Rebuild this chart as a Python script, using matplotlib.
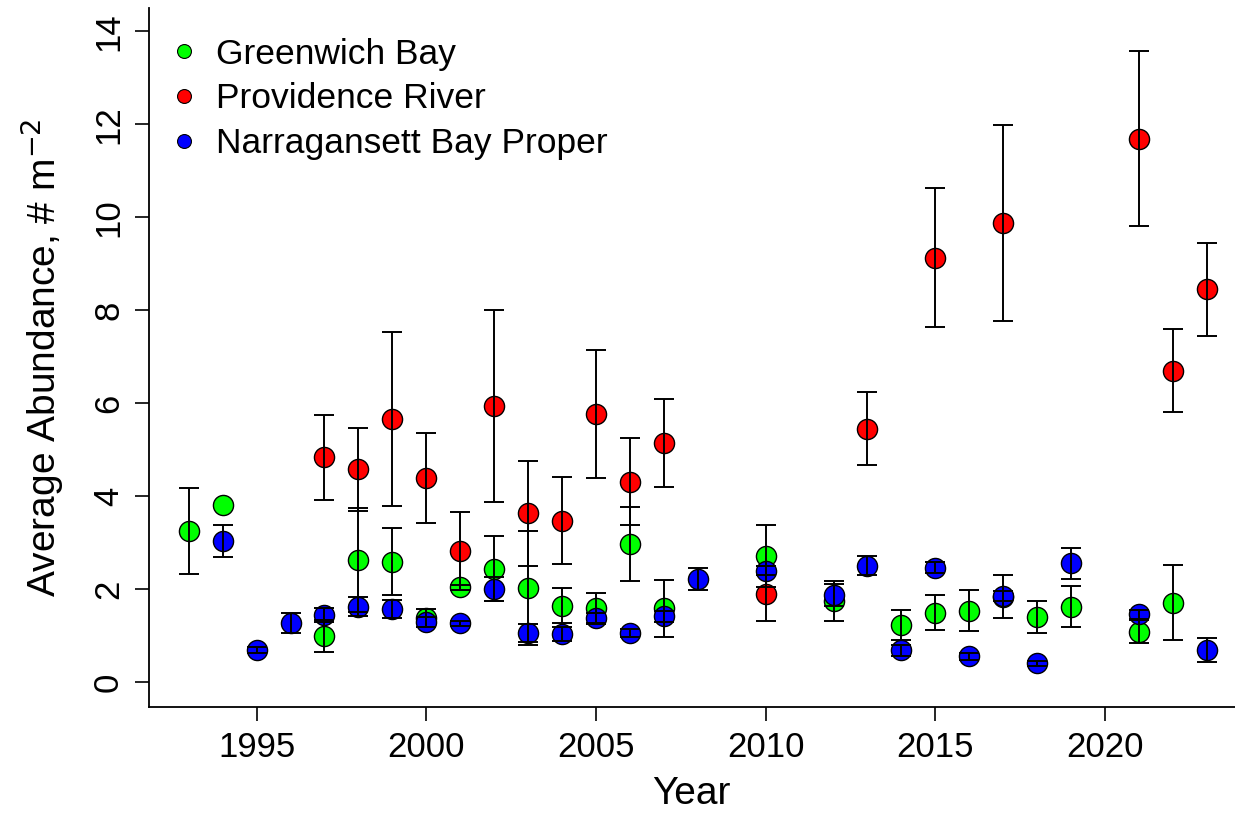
import matplotlib
matplotlib.use("Agg")
import matplotlib.pyplot as plt
import numpy as np

plt.rcParams['font.family'] = ['Liberation Sans', 'DejaVu Sans']

# Greenwich Bay
gb_years = [1993, 1994, 1997, 1998, 1999, 2000, 2001, 2002, 2003, 2004, 2005, 2006,
            2007, 2010, 2012, 2014, 2015, 2016, 2017, 2018, 2019, 2021, 2022]
gb_mean = [3.25, 3.81, 0.99, 2.63, 2.58, 1.37, 2.03, 2.43, 2.02, 1.64, 1.59, 2.97,
           1.58, 2.71, 1.74, 1.22, 1.49, 1.53, 1.83, 1.39, 1.62, 1.08, 1.70]
gb_se = [0.93, np.nan, 0.34, 1.12, 0.72, 0.20, 0.05, 0.70, 1.22, 0.37, 0.33, 0.79,
         0.62, 0.67, 0.43, 0.33, 0.38, 0.44, 0.46, 0.35, 0.45, 0.24, 0.81]

# Providence River
pr_years = [1997, 1998, 1999, 2000, 2001, 2002, 2003, 2004, 2005, 2006, 2007,
            2010, 2013, 2015, 2017, 2021, 2022, 2023]
pr_mean = [4.83, 4.57, 5.66, 4.39, 2.82, 5.94, 3.63, 3.47, 5.76, 4.31, 5.14,
           1.90, 5.45, 9.13, 9.88, 11.69, 6.70, 8.45]
pr_se = [0.91, 0.90, 1.87, 0.97, 0.84, 2.06, 1.13, 0.94, 1.38, 0.94, 0.95,
         0.60, 0.79, 1.50, 2.11, 1.88, 0.90, 1.00]

# Narragansett Bay Proper
nb_years = [1994, 1995, 1996, 1997, 1998, 1999, 2000, 2001, 2002, 2003, 2004, 2005,
            2006, 2007, 2008, 2010, 2012, 2013, 2014, 2015, 2016, 2017, 2018, 2019,
            2021, 2023]
nb_mean = [3.03, 0.68, 1.27, 1.43, 1.62, 1.57, 1.29, 1.26, 2.00, 1.05, 1.03, 1.37,
           1.05, 1.41, 2.21, 2.39, 1.87, 2.50, 0.68, 2.46, 0.55, 1.85, 0.40, 2.55,
           1.45, 0.68]
nb_se = [0.34, 0.07, 0.22, 0.15, 0.21, 0.20, 0.10, 0.05, 0.25, 0.20, 0.15, 0.12,
         0.08, 0.12, 0.23, 0.10, 0.24, 0.21, 0.12, 0.12, 0.07, 0.10, 0.05, 0.34,
         0.10, 0.26]

series = [
    ("Greenwich Bay", "#00FF00", gb_years, gb_mean, gb_se),
    ("Providence River", "#FF0000", pr_years, pr_mean, pr_se),
    ("Narragansett Bay Proper", "#0000FF", nb_years, nb_mean, nb_se),
]

fig = plt.figure(figsize=(12.35, 8.14), dpi=100)
ax = fig.add_axes([0.1204, 0.131, 0.8796, 0.859])

# points first, error bars drawn over them
for name, col, yrs, m, se in series:
    ax.plot(yrs, m, "o", color=col, mec="black", mew=1.0, ms=14.5, zorder=2)
for name, col, yrs, m, se in series:
    ax.errorbar(yrs, m, yerr=se, fmt="none", ecolor="black", elinewidth=1.4,
                capsize=7.5, capthick=1.4, zorder=3)

# legend handles
for name, col, yrs, m, se in series:
    ax.plot([], [], "o", color=col, mec="black", mew=0.8, ms=10, label=name)

ax.legend(loc="upper left", frameon=False, fontsize=25.5, handlelength=0.6,
          handletextpad=0.6, labelspacing=0.33, borderaxespad=0.0,
          bbox_to_anchor=(0.010, 0.978))

ax.set_xlim(1991.82, 2023.83)
ax.set_ylim(-0.55, 14.50)
ax.set_xticks([1995, 2000, 2005, 2010, 2015, 2020])
ax.set_yticks([0, 2, 4, 6, 8, 10, 12, 14])
ax.tick_params(labelsize=25, length=10, width=1.2, pad=7, direction="out")
for lab in ax.get_yticklabels():
    lab.set_rotation(90)
    lab.set_va("center")
ax.spines["top"].set_visible(False)
ax.spines["right"].set_visible(False)
ax.spines["left"].set_linewidth(1.3)
ax.spines["bottom"].set_linewidth(1.3)

ax.set_xlabel("Year", fontsize=28, labelpad=9)
ax.set_ylabel("Average Abundance, # m$^{-2}$", fontsize=28, labelpad=19)

fig.savefig("out.png", dpi=100)
